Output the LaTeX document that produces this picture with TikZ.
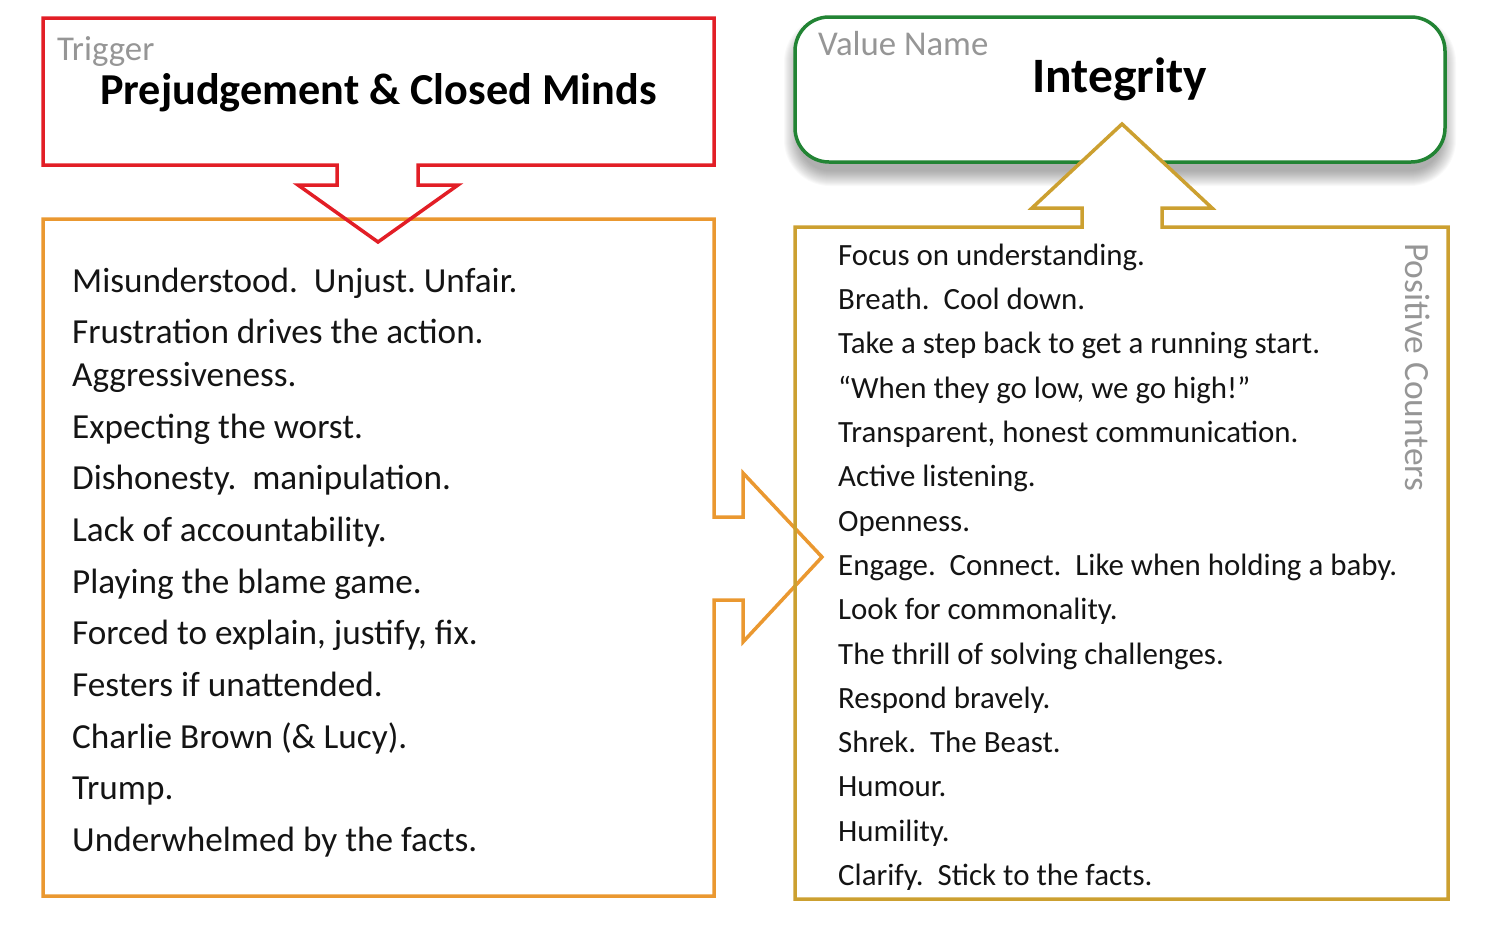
\documentclass[tikz,border=0pt]{standalone}
\usepackage{fontspec}
\setmainfont{Carlito}
\frenchspacing
\definecolor{trigred}{RGB}{226,30,38}
\definecolor{boxorange}{RGB}{234,152,48}
\definecolor{boxgold}{RGB}{204,160,48}
\definecolor{valgreen}{RGB}{34,132,52}
\definecolor{lblgray}{RGB}{150,150,150}
\definecolor{txt}{RGB}{20,20,20}
\tikzset{
  outline/.style={line width=3.5pt, line join=miter},
  lbl/.style={inner sep=0pt, anchor=base west, text=lblgray, font=\fontsize{34.8}{40}\selectfont},
  ltxt/.style={inner sep=0pt, anchor=base west, text=txt, font=\fontsize{35.2}{40}\selectfont},
  rtxt/.style={inner sep=0pt, anchor=base west, text=txt, font=\fontsize{30.9}{36}\selectfont},
  ttl/.style={inner sep=0pt, anchor=base west, text=black, font=\bfseries\fontsize{44.2}{50}\selectfont},
}
\begin{document}
\begin{tikzpicture}[x=1pt,y=-1pt]
\useasboundingbox (0,0) rectangle (1500,932);
% shadow of green box
\foreach \k in {1,...,16}{
  \fill[black,opacity=0.022,rounded corners={30+\k}] (800-\k,32-\k) rectangle (1440+\k,170+\k);
}
% green value box
\draw[outline, draw=valgreen, fill=white, rounded corners=34] (795,17) rectangle (1445,162);
% white fill of the up arrow (hides the green line inside it)
\fill[white] (1082,227) -- (1082,208) -- (1032,208) -- (1122,124) -- (1212,208) -- (1162,208) -- (1162,227) -- cycle;
% left orange box with right arrow
\draw[outline, draw=boxorange] (714,517) -- (714,219) -- (43,219) -- (43,896) -- (714,896) -- (714,600)
  -- (743,600) -- (743,642) -- (822,557) -- (743,473) -- (743,517) -- cycle;
% right gold box with up arrow
\draw[outline, draw=boxgold] (1082,227) -- (795,227) -- (795,899) -- (1448,899) -- (1448,227) -- (1162,227)
  -- (1162,208) -- (1212,208) -- (1122,124) -- (1032,208) -- (1082,208) -- cycle;
% red trigger box with down arrow
\draw[outline, draw=trigred] (337,165) -- (43,165) -- (43,18) -- (714,18) -- (714,165) -- (418,165)
  -- (418,185) -- (458,185) -- (378,242) -- (298,185) -- (337,185) -- cycle;
% labels
\node[lbl] (trig) at (57,60) {Trigger};
\node[ttl] (title) at (100,104) {Prejudgement \& Closed Minds};
\node[lbl] (vname) at (818,55) {Value Name};
\node[ttl, font=\bfseries\fontsize{49.5}{56}\selectfont] (integ) at (1032,92) {Integrity};
\node[lbl, rotate=-90, font=\fontsize{35.4}{40}\selectfont] (pos) at (1405,243) {Positive Counters};
% left list
\node[ltxt] (l1) at (72,292) {Misunderstood.\ \ Unjust. Unfair.};
\node[ltxt] (l2) at (72,343) {Frustration drives the action.};
\node[ltxt] (l3) at (72,386) {Aggressiveness.};
\node[ltxt] (l4) at (72,438) {Expecting the worst.};
\node[ltxt] (l5) at (72,489) {Dishonesty.\ \ manipulation.};
\node[ltxt] (l6) at (72,541) {Lack of accountability.};
\node[ltxt] (l7) at (72,593) {Playing the blame game.};
\node[ltxt] (l8) at (72,644) {Forced to explain, justify, fix.};
\node[ltxt] (l9) at (72,696) {Festers if unattended.};
\node[ltxt] (l10) at (72,748) {Charlie Brown (\& Lucy).};
\node[ltxt] (l11) at (72,799) {Trump.};
\node[ltxt] (l12) at (72,851) {Underwhelmed by the facts.};
% right list
\node[rtxt] (r1) at (838,265) {Focus on understanding.};
\node[rtxt] (r2) at (838,309) {Breath.\ \ Cool down.};
\node[rtxt] (r3) at (838,353) {Take a step back to get a running start.};
\node[rtxt] (r4) at (838,398) {“When they go low, we go high!”};
\node[rtxt] (r5) at (838,442) {Transparent, honest communication.};
\node[rtxt] (r6) at (838,486) {Active listening.};
\node[rtxt] (r7) at (838,531) {Openness.};
\node[rtxt] (r8) at (838,575) {Engage.\ \ Connect.\ \ Like when holding a baby.};
\node[rtxt] (r9) at (838,619) {Look for commonality.};
\node[rtxt] (r10) at (838,664) {The thrill of solving challenges.};
\node[rtxt] (r11) at (838,708) {Respond bravely.};
\node[rtxt] (r12) at (838,752) {Shrek.\ \ The Beast.};
\node[rtxt] (r13) at (838,796) {Humour.};
\node[rtxt] (r14) at (838,841) {Humility.};
\node[rtxt] (r15) at (838,885) {Clarify.\ \ Stick to the facts.};
\end{tikzpicture}
\end{document}
